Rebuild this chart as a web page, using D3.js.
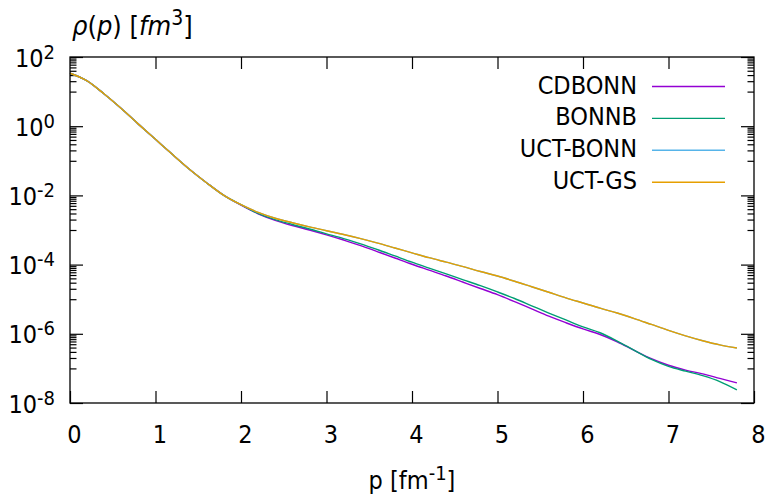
<!DOCTYPE html>
<html>
<head>
<meta charset="utf-8">
<script src="https://cdn.jsdelivr.net/npm/d3@7"></script>
<style>
  html, body { margin: 0; padding: 0; background: #fff; }
  svg { display: block; }
  text { font-family: "DejaVu Sans Condensed", "DejaVu Sans", sans-serif; font-stretch: condensed; fill: #000; }
</style>
</head>
<body>
<svg id="chart" width="767" height="497"></svg>
<script>
// ---- data (log10 of rho) ----
const pValues = [0,0.2,0.4,0.6,0.8,1.0,1.2,1.4,1.6,1.8,2.0,2.2,2.4,2.6,2.8,3.0,3.2,3.4,3.6,3.8,
                 4.0,4.2,4.4,4.6,4.8,5.0,5.2,5.4,5.6,5.8,6.0,6.2,6.4,6.6,6.8,7.0,7.2,7.4,7.6,7.8];
const logCDBONN = [1.53,1.31,0.93,0.51,0.06,-0.38,-0.82,-1.25,-1.64,-2.00,-2.28,-2.53,-2.72,-2.87,-3.00,-3.14,-3.29,-3.45,-3.63,-3.81,
                   -3.99,-4.16,-4.33,-4.51,-4.69,-4.87,-5.07,-5.28,-5.49,-5.68,-5.86,-6.02,-6.23,-6.48,-6.72,-6.91,-7.05,-7.16,-7.29,-7.42];
const logBONNB  = [1.53,1.31,0.93,0.51,0.06,-0.38,-0.82,-1.25,-1.64,-2.00,-2.27,-2.52,-2.70,-2.84,-2.97,-3.11,-3.25,-3.40,-3.57,-3.75,
                   -3.93,-4.10,-4.27,-4.44,-4.61,-4.79,-4.98,-5.19,-5.40,-5.60,-5.80,-5.97,-6.21,-6.48,-6.74,-6.94,-7.08,-7.21,-7.38,-7.62];
const logUCTBONN = [1.53,1.31,0.93,0.51,0.06,-0.38,-0.82,-1.25,-1.64,-2.00,-2.27,-2.49,-2.66,-2.79,-2.91,-3.02,-3.13,-3.25,-3.38,-3.52,
                   -3.66,-3.80,-3.93,-4.06,-4.20,-4.33,-4.48,-4.64,-4.80,-4.96,-5.11,-5.26,-5.40,-5.56,-5.73,-5.90,-6.06,-6.20,-6.32,-6.41];
const logUCTGS  = [1.53,1.31,0.93,0.51,0.06,-0.38,-0.82,-1.25,-1.64,-2.00,-2.27,-2.49,-2.66,-2.79,-2.91,-3.02,-3.13,-3.25,-3.38,-3.52,
                   -3.66,-3.80,-3.93,-4.06,-4.20,-4.33,-4.48,-4.64,-4.80,-4.96,-5.11,-5.26,-5.40,-5.56,-5.73,-5.90,-6.06,-6.20,-6.32,-6.41];
const seriesNames  = ["CDBONN", "BONNB", "UCT-BONN", "UCT-GS"];
const seriesColors = ["#9400d3", "#009e73", "#56b4e9", "#e69f00"];
const xTicks = [0,1,2,3,4,5,6,7,8];
const yTickExponents = [2,0,-2,-4,-6,-8];
const yMinorExponents = [1,-1,-3,-5,-7];

// ---- layout ----
const L = 70, R = 754, T = 57, B = 403;
const svg = d3.select("#chart");
const x = d3.scaleLinear().domain([0, 8]).range([L, R]);
const y = d3.scaleLog().domain([1e-8, 1e2]).range([B, T]);

const majorY = yTickExponents.map(e => Math.pow(10, e));
const minorY = [];
yMinorExponents.forEach(e => { for (let k = 1; k <= 9; k++) minorY.push(k * Math.pow(10, e)); });

function styleAxis(g) {
  g.select(".domain").remove();
  g.selectAll(".tick line").attr("stroke", "#000").attr("stroke-width", 1.2);
}

// bottom axis with labels
const gx = svg.append("g").attr("transform", `translate(0,${B})`)
  .call(d3.axisBottom(x).tickValues(xTicks).tickSize(-12).tickFormat(d3.format("d")));
styleAxis(gx);
gx.selectAll(".tick text").attr("x", 4).attr("y", 40).attr("dy", 0)
  .attr("font-size", 25).attr("font-family", null);
// top axis
const gxt = svg.append("g").attr("transform", `translate(0,${T})`)
  .call(d3.axisTop(x).tickValues(xTicks.slice(1, -1)).tickSize(-12).tickFormat(""));
styleAxis(gxt);

// left axis major with labels
const gy = svg.append("g").attr("transform", `translate(${L},0)`)
  .call(d3.axisLeft(y).tickValues(majorY).tickSize(-13).tickFormat(""));
styleAxis(gy);
gy.selectAll(".tick").each(function(d) {
  const t = d3.select(this).append("text")
    .attr("x", -15).attr("y", 9).attr("text-anchor", "end").attr("font-size", 25);
  t.append("tspan").text("10");
  t.append("tspan").attr("font-size", 20).attr("dy", -8).text(String(Math.round(Math.log10(d))));
});
const gym = svg.append("g").attr("transform", `translate(${L},0)`)
  .call(d3.axisLeft(y).tickValues(minorY).tickSize(-6.5).tickFormat(""));
styleAxis(gym);
// right axis
const gyr = svg.append("g").attr("transform", `translate(${R},0)`)
  .call(d3.axisRight(y).tickValues(majorY).tickSize(-13).tickFormat(""));
styleAxis(gyr);
const gyrm = svg.append("g").attr("transform", `translate(${R},0)`)
  .call(d3.axisRight(y).tickValues(minorY).tickSize(-6.5).tickFormat(""));
styleAxis(gyrm);

// lines
const allSeries = [logCDBONN, logBONNB, logUCTBONN, logUCTGS];
const line = d3.line()
  .x(d => x(d[0]))
  .y(d => y(Math.pow(10, d[1])))
  .curve(d3.curveMonotoneX);
allSeries.forEach((vals, i) => {
  svg.append("path")
    .datum(pValues.map((p, j) => [p, vals[j]]))
    .attr("fill", "none")
    .attr("stroke", seriesColors[i])
    .attr("stroke-width", 1.4)
    .attr("d", line);
});

// frame
svg.append("rect").attr("x", L).attr("y", T).attr("width", R - L).attr("height", B - T)
  .attr("fill", "none").attr("stroke", "#000").attr("stroke-width", 1.3);

// legend
const legY0 = 86.5, legDY = 31.9;
seriesNames.forEach((name, i) => {
  const ly = legY0 + i * legDY;
  svg.append("text").attr("x", 637).attr("y", ly + 7).attr("text-anchor", "end")
    .attr("font-size", 25).text(name);
  svg.append("line").attr("x1", 652).attr("x2", 725).attr("y1", ly).attr("y2", ly)
    .attr("stroke", seriesColors[i]).attr("stroke-width", 1.4);
});

// title
const title = svg.append("text").attr("x", 72).attr("y", 35).attr("font-size", 27);
title.append("tspan").attr("font-style", "italic").text("ρ");
title.append("tspan").text("(");
title.append("tspan").attr("font-style", "italic").text("p");
title.append("tspan").text(") [");
title.append("tspan").attr("font-style", "italic").text("fm");
title.append("tspan").attr("font-size", 21).attr("dy", -10).text("3");
title.append("tspan").attr("dy", 10).text("]");

// x label
const xl = svg.append("text").attr("x", 412).attr("y", 489).attr("text-anchor", "middle").attr("font-size", 25);
xl.append("tspan").text("p [fm");
xl.append("tspan").attr("font-size", 20).attr("dy", -9).text("-1");
xl.append("tspan").attr("dy", 9).text("]");
</script>
</body>
</html>
